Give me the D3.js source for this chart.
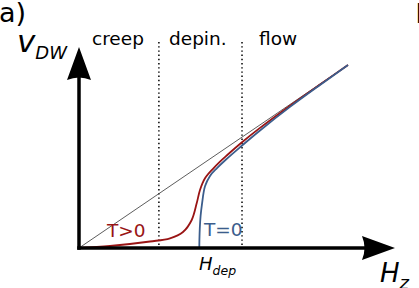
<!DOCTYPE html>
<html>
<head>
<meta charset="utf-8">
<script src="https://cdn.jsdelivr.net/npm/d3@7"></script>
<style>
    body { margin: 0; background: #fff; }
    svg { display: block; font-family: "DejaVu Sans", sans-serif; }
</style>
</head>
<body>
<svg id="chart" width="419" height="288"></svg>
<script>
// field H (x) and velocity v (y), arbitrary units
var diagonal = [[0, 0], [10, 10]];

var creepT = [
    [0, 0], [1.152, 0.109], [2.639, 0.355], [3.383, 0.530], [3.866, 0.874],
    [4.190, 1.530], [4.375, 2.443], [4.498, 3.169], [4.684, 3.809],
    [4.981, 4.328], [5.242, 4.721], [5.491, 5.055], [6.048, 5.765],
    [6.729, 6.563], [7.844, 7.776], [8.959, 8.937], [10, 10]
];

var zeroT = [
    [4.472, 0], [4.476, 0.437], [4.491, 1.093], [4.520, 1.749], [4.572, 2.404],
    [4.684, 3.372], [4.870, 3.940], [5.130, 4.366], [5.465, 4.836],
    [5.985, 5.503], [6.729, 6.421], [7.844, 7.710], [8.959, 8.910], [10, 10]
];

// regime boundaries
var boundaries = [2.97, 6.06];
var regimes = ['creep', 'depin.', 'flow'];

var svg = d3.select('#chart');

var x = d3.scaleLinear().domain([0, 10]).range([79, 348]);
var y = d3.scaleLinear().domain([0, 10]).range([248, 65]);

var xMax = x.invert(395),
    yMax = y.invert(47),
    yTop = y.invert(42);

// dotted regime separators
svg.selectAll('line.sep')
    .data(boundaries)
    .enter()
    .append('line')
    .attr('class', 'sep')
    .attr('x1', function (d) { return x(d); })
    .attr('x2', function (d) { return x(d); })
    .attr('y1', y(yTop))
    .attr('y2', y(0))
    .attr('stroke', '#000')
    .attr('stroke-width', 1.5)
    .attr('stroke-dasharray', '1.4,2.8');

var line = d3.line()
    .x(function (d) { return x(d[0]); })
    .y(function (d) { return y(d[1]); });

svg.append('path')
    .attr('d', line(diagonal))
    .attr('fill', 'none')
    .attr('stroke', '#333')
    .attr('stroke-width', 0.8);

var curve = d3.line()
    .x(function (d) { return x(d[0]); })
    .y(function (d) { return y(d[1]); })
    .curve(d3.curveCatmullRom.alpha(0.5));

svg.append('path')
    .attr('d', curve(creepT))
    .attr('fill', 'none')
    .attr('stroke', '#991414')
    .attr('stroke-width', 1.8);

svg.append('path')
    .attr('d', curve(zeroT))
    .attr('fill', 'none')
    .attr('stroke', '#3b5d8c')
    .attr('stroke-width', 1.8);

// axes with arrow heads
var x0 = x(0), y0 = y(0);

svg.append('line')
    .attr('x1', x0).attr('y1', y0)
    .attr('x2', x(xMax) - 30).attr('y2', y0)
    .attr('stroke', '#000')
    .attr('stroke-width', 3.5)
    .attr('stroke-linecap', 'square');

svg.append('line')
    .attr('x1', x0).attr('y1', y0)
    .attr('x2', x0).attr('y2', y(yMax) + 30)
    .attr('stroke', '#000')
    .attr('stroke-width', 3.5)
    .attr('stroke-linecap', 'square');

var tx = x(xMax);
svg.append('path')
    .attr('d', 'M' + tx + ',' + y0 +
               ' L' + (tx - 33) + ',' + (y0 - 12) +
               ' Q' + (tx - 28) + ',' + y0 + ' ' + (tx - 33) + ',' + (y0 + 12) + ' Z')
    .attr('fill', '#000');

var ty = y(yMax);
svg.append('path')
    .attr('d', 'M' + x0 + ',' + ty +
               ' L' + (x0 - 12) + ',' + (ty + 33) +
               ' Q' + x0 + ',' + (ty + 28) + ' ' + (x0 + 12) + ',' + (ty + 33) + ' Z')
    .attr('fill', '#000');

// regime labels
var labelX = [92, 169, 259];
svg.selectAll('text.regime')
    .data(regimes)
    .enter()
    .append('text')
    .attr('class', 'regime')
    .attr('x', function (d, i) { return labelX[i]; })
    .attr('y', 45)
    .attr('font-size', '18.5px')
    .attr('fill', '#000')
    .text(function (d) { return d; });

svg.append('text')
    .attr('x', 107).attr('y', 236.5)
    .attr('font-size', '18.5px')
    .attr('fill', '#991414')
    .text('T>0');

svg.append('text')
    .attr('x', 204).attr('y', 236)
    .attr('font-size', '18.5px')
    .attr('fill', '#3b5d8c')
    .text('T=0');

// axis titles
var vt = svg.append('text')
    .attr('x', 17).attr('y', 52)
    .attr('font-style', 'italic')
    .attr('font-size', '31px');
vt.append('tspan').text('v');
vt.append('tspan').attr('font-size', '18px').attr('dy', 7).text('DW');

var ht = svg.append('text')
    .attr('x', 380).attr('y', 282)
    .attr('font-style', 'italic')
    .attr('font-size', '26px');
ht.append('tspan').text('H');
ht.append('tspan').attr('font-size', '18px').attr('dy', 7).text('z');

var hd = svg.append('text')
    .attr('x', 199).attr('y', 270)
    .attr('font-style', 'italic')
    .attr('font-size', '18px');
hd.append('tspan').text('H');
hd.append('tspan').attr('font-size', '12.5px').attr('dy', 5).text('dep');

// panel letters
svg.append('text')
    .attr('x', -1).attr('y', 22)
    .attr('font-size', '27px')
    .text('a)');

svg.append('text')
    .attr('x', 415.5).attr('y', 23)
    .attr('font-size', '27px')
    .text('b)');
</script>
</body>
</html>
